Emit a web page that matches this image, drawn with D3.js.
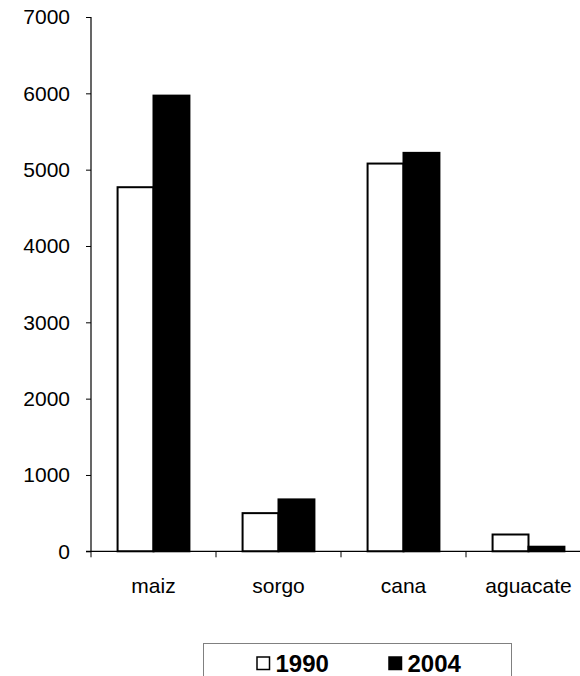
<!DOCTYPE html>
<html>
<head>
<meta charset="utf-8">
<script src="https://cdn.jsdelivr.net/npm/d3@7"></script>
<style>
  html, body { margin: 0; padding: 0; background: #fff; }
  svg { display: block; font-family: Arial, "Liberation Sans", sans-serif; }
</style>
</head>
<body>
<svg id="chart" width="580" height="676"></svg>
<script>
// Crop areas by year
const categories = ["maiz", "sorgo", "cana", "aguacate"];
const years = ["1990", "2004"];
const values1990 = [4770, 500, 5080, 220];
const values2004 = [5970, 680, 5220, 60];
const yTicks = [0, 1000, 2000, 3000, 4000, 5000, 6000, 7000];
const yearFill = { "1990": "#ffffff", "2004": "#000000" };

const svg = d3.select("#chart");
const x0 = 91, plotRight = 591, yTop = 17, yBottom = 551.3;
const labelFont = "Arial, 'Liberation Sans', sans-serif";

const x = d3.scaleBand().domain(categories).range([x0, plotRight]).paddingInner(0).paddingOuter(0);
const xIn = d3.scaleBand().domain(years).range([0, x.bandwidth()]).paddingInner(0).paddingOuter(0.74);
const y = d3.scaleLinear().domain([0, 7000]).range([yBottom, yTop]);

const rows = categories.map((c, i) => ({ cat: c, vals: [
  { year: "1990", v: values1990[i] },
  { year: "2004", v: values2004[i] }
]}));

// bars
const groups = svg.append("g").selectAll("g").data(rows).join("g")
  .attr("transform", d => `translate(${x(d.cat)},0)`);
groups.selectAll("rect").data(d => d.vals).join("rect")
  .attr("x", d => xIn(d.year))
  .attr("y", d => y(d.v))
  .attr("width", xIn.bandwidth())
  .attr("height", d => y(0) - y(d.v))
  .attr("fill", d => yearFill[d.year])
  .attr("stroke", "#000")
  .attr("stroke-width", 2);

// y axis
const yAxis = svg.append("g").attr("transform", `translate(${x0},0)`)
  .call(d3.axisLeft(y).tickValues(yTicks).tickSize(5).tickPadding(16).tickFormat(d3.format("d")));
yAxis.select(".domain").attr("stroke", "#000").attr("stroke-width", 1.2).attr("d", `M0,${yTop}V${yBottom}`);
yAxis.selectAll(".tick line").attr("stroke", "#000");
yAxis.selectAll(".tick text").attr("font-size", 21).attr("fill", "#000")
  .attr("font-family", labelFont);

// x axis
const xAxis = svg.append("g").attr("transform", `translate(0,${yBottom})`)
  .call(d3.axisBottom(x).tickSize(0).tickPadding(27));
xAxis.select(".domain").attr("stroke", "#000").attr("stroke-width", 1.2)
  .attr("d", `M${x0 - 5},0H${plotRight}`);
xAxis.selectAll(".tick text").attr("font-size", 21).attr("fill", "#000")
  .attr("font-family", labelFont);
// category separator ticks
svg.append("g").selectAll("line").data(categories).join("line")
  .attr("x1", d => x(d)).attr("x2", d => x(d))
  .attr("y1", yBottom).attr("y2", yBottom + 6)
  .attr("stroke", "#000").attr("stroke-width", 1);

// legend
const legend = svg.append("g");
legend.append("rect").attr("x", 203.5).attr("y", 643.5).attr("width", 308).attr("height", 60)
  .attr("fill", "#fff").attr("stroke", "#808080").attr("stroke-width", 1);
const legendX = { "1990": 257, "2004": 389 };
years.forEach(yr => {
  legend.append("rect").attr("x", legendX[yr]).attr("y", 657).attr("width", 12.5).attr("height", 12.5)
    .attr("fill", yearFill[yr]).attr("stroke", "#000").attr("stroke-width", 1.5);
  legend.append("text").attr("x", legendX[yr] + 18.5).attr("y", 671.5)
    .attr("font-size", 24).attr("font-weight", "bold").attr("fill", "#000")
    .attr("font-family", labelFont)
    .text(yr);
});
</script>
</body>
</html>
